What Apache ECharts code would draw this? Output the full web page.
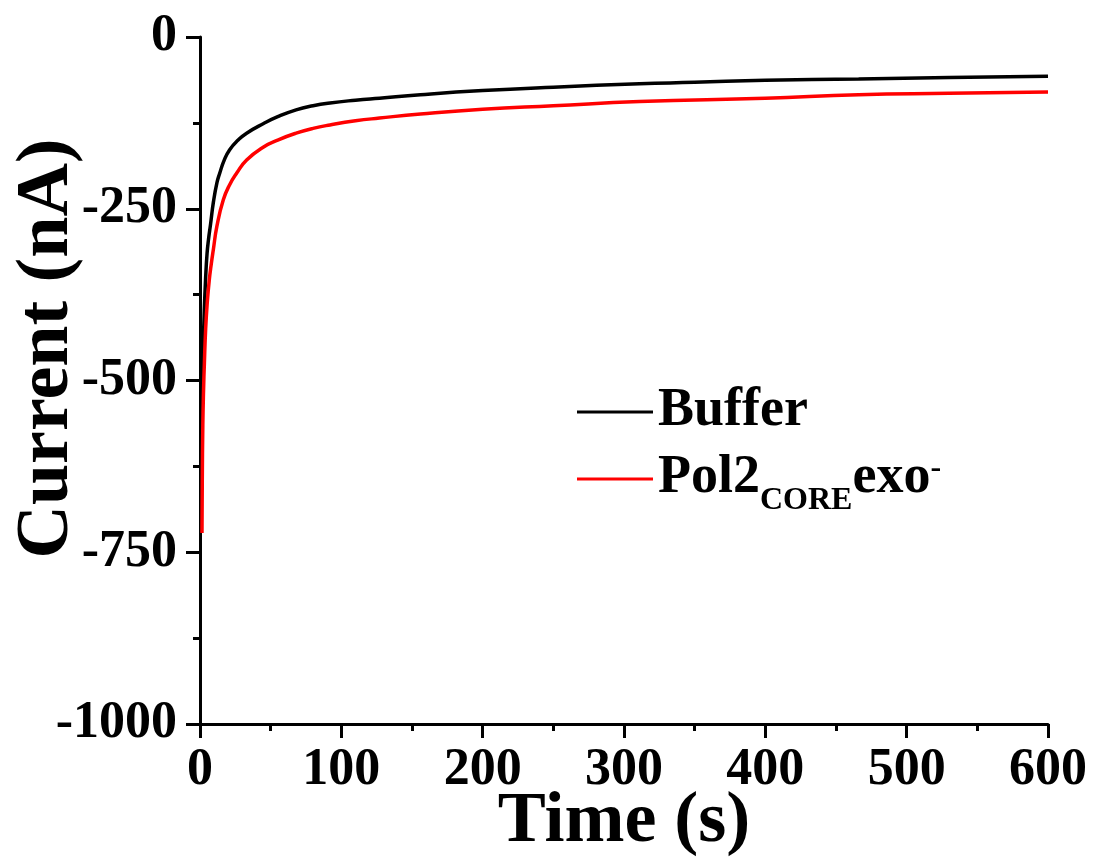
<!DOCTYPE html>
<html>
<head>
<meta charset="utf-8">
<script src="https://cdn.jsdelivr.net/npm/echarts@6/dist/echarts.min.js"></script>
<style>
  html, body { margin: 0; padding: 0; background: #fff; }
  #chart { width: 1093px; height: 861px; }
</style>
</head>
<body>
<div id="chart"></div>
<script>
var FONT = '"Times New Roman", "Liberation Serif", serif';

var seriesNames = ['Buffer', 'Pol2COREexo-'];

// [time (s), current (nA)]
var bufferData = [
    [0.8, -590], [1.5, -510], [2, -470], [3, -400], [4, -350], [5, -315],
    [6, -295], [7.5, -272], [9.5, -240], [12, -212], [14, -198], [17, -180],
    [21, -164], [27, -150], [33, -140], [45, -126], [55, -116], [68, -106],
    [80, -100], [92, -96], [110, -92], [127, -89], [156, -84], [200, -78],
    [250, -73], [311, -68], [350, -66], [400, -63], [466, -61], [530, -59],
    [600, -57]
];
var pol2Data = [
    [1.4, -722], [1.6, -650], [2, -565], [2.5, -515], [3.1, -475], [4, -425],
    [5.2, -385], [6.5, -355], [8, -330], [9.4, -310], [12, -275], [16.5, -237],
    [21, -215], [26, -198], [33, -179], [45, -160], [55, -150], [68, -140],
    [80, -133], [92, -128], [110, -122], [127, -118], [156, -112], [200, -105],
    [250, -100], [311, -94], [400, -89], [466, -84], [530, -82], [600, -80]
];

var myChart = echarts.init(document.getElementById('chart'));

var option = {
    animation: false,
    backgroundColor: '#fff',
    grid: { left: 200, right: 45, top: 37, bottom: 137, containLabel: false, outerBoundsMode: 'none' },
    legend: {
        left: 572,
        top: 379,
        orient: 'vertical',
        icon: 'rect',
        itemWidth: 76,
        itemHeight: 3,
        itemGap: 1,
        data: seriesNames,
        formatter: function (name) {
            if (name === 'Buffer') return '{f|Buffer}';
            return '{f|Pol2}{sub|CORE}{m|exo}{sup|-}';
        },
        textStyle: {
            fontFamily: FONT,
            fontWeight: 'bold',
            color: '#000',
            rich: {
                f: { fontFamily: FONT, fontWeight: 'bold', fontSize: 54, color: '#000',
                     lineHeight: 56, verticalAlign: 'top', padding: [0, 0, 12, 0] },
                m: { fontFamily: FONT, fontWeight: 'bold', fontSize: 54, color: '#000',
                     lineHeight: 56, verticalAlign: 'top', padding: [0, 0, 12, 0] },
                sub: { fontFamily: FONT, fontWeight: 'bold', fontSize: 32, color: '#000',
                       lineHeight: 32, verticalAlign: 'top', padding: [34, 0, 0, 0] },
                sup: { fontFamily: FONT, fontWeight: 'bold', fontSize: 32, color: '#000',
                       lineHeight: 32, verticalAlign: 'top', padding: [2, 0, 0, 0] }
            }
        }
    },
    xAxis: {
        type: 'value',
        min: 0,
        max: 600,
        interval: 100,
        name: 'Time (s)',
        nameLocation: 'middle',
        nameGap: 62,
        nameMoveOverlap: false,
        nameTextStyle: { fontFamily: FONT, fontWeight: 'bold', fontSize: 72, color: '#000' },
        axisLine: { show: true, onZero: false, lineStyle: { color: '#000', width: 3 } },
        axisTick: { show: true, inside: false, length: 14, lineStyle: { color: '#000', width: 3 } },
        minorTick: { show: true, splitNumber: 2, length: 7, lineStyle: { color: '#000', width: 3 } },
        axisLabel: { margin: 21, fontFamily: FONT, fontWeight: 'bold', fontSize: 52, color: '#000',
                     formatter: function (v) { return String(v); } },
        splitLine: { show: false }
    },
    yAxis: {
        type: 'value',
        min: -1000,
        max: 0,
        interval: 250,
        name: 'Current (nA)',
        nameLocation: 'middle',
        nameGap: 115,
        nameMoveOverlap: false,
        nameTextStyle: { fontFamily: FONT, fontWeight: 'bold', fontSize: 74, color: '#000',
                         padding: [0, 0, 0, 64] },
        axisLine: { show: true, onZero: false, lineStyle: { color: '#000', width: 3 } },
        axisTick: { show: true, inside: false, length: 14, lineStyle: { color: '#000', width: 3 } },
        minorTick: { show: true, splitNumber: 2, length: 7, lineStyle: { color: '#000', width: 3 } },
        axisLabel: { margin: 23, fontFamily: FONT, fontWeight: 'bold', fontSize: 52, color: '#000',
                     formatter: function (v) { return String(v); } },
        splitLine: { show: false }
    },
    series: [
        {
            name: seriesNames[0],
            type: 'line',
            data: bufferData,
            showSymbol: false,
            smooth: 0.5,
            lineStyle: { color: '#000', width: 3.5 },
            itemStyle: { color: '#000' }
        },
        {
            name: seriesNames[1],
            type: 'line',
            data: pol2Data,
            showSymbol: false,
            smooth: 0.5,
            lineStyle: { color: '#ff0000', width: 3.5 },
            itemStyle: { color: '#ff0000' }
        }
    ]
};

myChart.setOption(option);
</script>
</body>
</html>
